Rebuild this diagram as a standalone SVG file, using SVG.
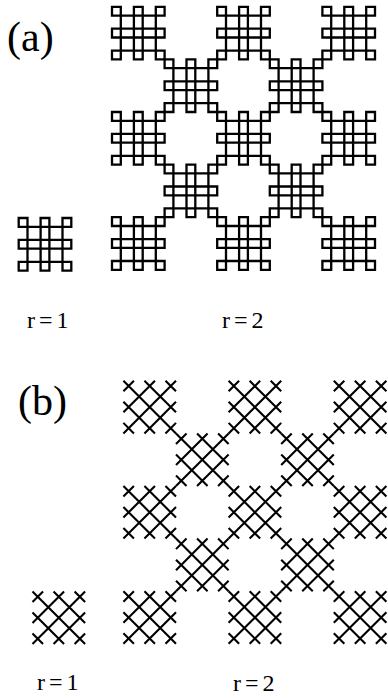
<svg xmlns="http://www.w3.org/2000/svg" xmlns:xlink="http://www.w3.org/1999/xlink" width="388" height="698" viewBox="0 0 388 698">
<style>
.ga{fill:none;stroke:#000;stroke-width:2.3;stroke-linecap:square}
.gb{fill:none;stroke:#000;stroke-width:2.1}
.lbl{font-family:"Liberation Serif","Times New Roman",serif;fill:#000}
.big{font-size:42px}
.sm{font-size:24px;letter-spacing:4px}
</style>
<defs>
<path id="ta" class="ga" d="M8.8 0V52.6M21.9 0V52.6M30.7 0V52.6M43.8 0V52.6M0 8.8H52.6M0 21.9H52.6M0 30.7H52.6M0 43.8H52.6M0 0H8.8M21.9 0H30.7M43.8 0H52.6M0 52.6H8.8M21.9 52.6H30.7M43.8 52.6H52.6M0 0V8.8M0 21.9V30.7M0 43.8V52.6M52.6 0V8.8M52.6 21.9V30.7M52.6 43.8V52.6"/>
<path id="tb" class="gb" d="M0 0L52.6 52.6M21.04 0L52.6 31.56M42.08 0L52.6 10.52M0 21.04L31.56 52.6M0 42.08L10.52 52.6M10.52 0L0 10.52M31.56 0L0 31.56M52.6 0L0 52.6M52.6 21.04L21.04 52.6M52.6 42.08L42.08 52.6"/>
<g id="r2a">
<use xlink:href="#ta" x="0" y="0"/><use xlink:href="#ta" x="105.2" y="0"/><use xlink:href="#ta" x="210.4" y="0"/>
<use xlink:href="#ta" x="52.6" y="52.6"/><use xlink:href="#ta" x="157.8" y="52.6"/>
<use xlink:href="#ta" x="0" y="105.2"/><use xlink:href="#ta" x="105.2" y="105.2"/><use xlink:href="#ta" x="210.4" y="105.2"/>
<use xlink:href="#ta" x="52.6" y="157.8"/><use xlink:href="#ta" x="157.8" y="157.8"/>
<use xlink:href="#ta" x="0" y="210.4"/><use xlink:href="#ta" x="105.2" y="210.4"/><use xlink:href="#ta" x="210.4" y="210.4"/>
</g>
<g id="r2b">
<use xlink:href="#tb" x="0" y="0"/><use xlink:href="#tb" x="105.2" y="0"/><use xlink:href="#tb" x="210.4" y="0"/>
<use xlink:href="#tb" x="52.6" y="52.6"/><use xlink:href="#tb" x="157.8" y="52.6"/>
<use xlink:href="#tb" x="0" y="105.2"/><use xlink:href="#tb" x="105.2" y="105.2"/><use xlink:href="#tb" x="210.4" y="105.2"/>
<use xlink:href="#tb" x="52.6" y="157.8"/><use xlink:href="#tb" x="157.8" y="157.8"/>
<use xlink:href="#tb" x="0" y="210.4"/><use xlink:href="#tb" x="105.2" y="210.4"/><use xlink:href="#tb" x="210.4" y="210.4"/>
</g>
</defs>
<rect width="388" height="698" fill="#fff"/>
<g id="panel-a">
<text class="lbl big" x="7" y="50.5">(a)</text>
<g id="a-r1"><use xlink:href="#ta" x="18.7" y="218"/></g>
<g id="a-r2"><use xlink:href="#r2a" x="112" y="6.8"/></g>
<text class="lbl sm" x="27" y="328">r=1</text>
<text class="lbl sm" x="222" y="328">r=2</text>
</g>
<g id="panel-b">
<text class="lbl big" x="18" y="415">(b)</text>
<g id="b-r1"><use xlink:href="#tb" x="32.5" y="591.4"/></g>
<g id="b-r2"><use xlink:href="#r2b" x="123.4" y="380.8"/></g>
<text class="lbl sm" x="37" y="690">r=1</text>
<text class="lbl sm" x="233" y="691">r=2</text>
</g>
<g id="connectors"/>
</svg>
